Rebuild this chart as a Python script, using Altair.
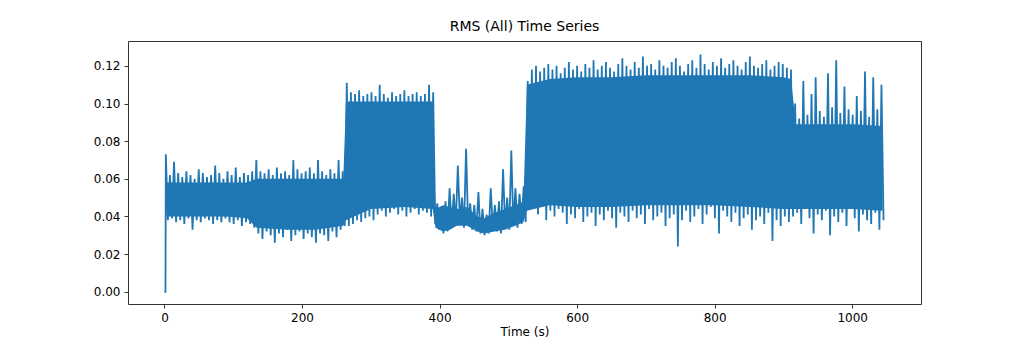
import altair as alt
import pandas as pd

# ---- data (values in thousandths of RMS) ----
lead_t = [0.0, 1.5]
lead_v = [0.0, 0.0]

pair_start = 2.0   # time of first peak (s)
pair_step = 5.98   # seconds between successive peaks

peaks_seg1 = [73, 62, 69, 63, 61, 64, 62, 60, 65, 63, 61, 62, 67, 63, 60, 64, 62, 66, 61, 63, 62, 64]
troughs_seg1 = [38, 39, 37, 38, 36, 39, 33, 38, 37, 39, 38, 36, 38, 37, 39, 37, 36, 38, 35, 37, 36, 34]

peaks_seg2 = [70, 64, 63, 65, 62, 66, 63, 64, 62, 70, 65, 63, 64, 66, 63, 70, 64, 62, 65, 63, 70, 64]
troughs_seg2 = [31, 28, 32, 30, 26, 31, 29, 33, 27, 30, 32, 28, 31, 29, 26, 31, 30, 27, 32, 29, 33, 35]

peaks_seg3 = [111, 106, 105, 107, 104, 105, 106, 104, 110, 105, 103, 106, 104, 105, 107, 104, 105, 106, 104, 105, 110, 106]
troughs_seg3 = [35, 36, 38, 37, 39, 40, 38, 41, 43, 40, 42, 44, 41, 43, 40, 42, 44, 41, 43, 42, 40, 36]

peaks_seg4 = [47, 45, 48, 55, 52, 67, 50, 76, 47, 46, 53, 44, 41, 55, 46, 48, 65, 50, 75, 55, 52, 56]
troughs_seg4 = [33, 31, 32, 34, 36, 38, 34, 35, 33, 32, 31, 30, 31, 33, 32, 31, 34, 33, 35, 34, 36, 37]

peaks_seg5 = [112, 118, 120, 117, 119, 121, 118, 120,
              116, 119, 122, 118, 120, 117, 121, 119,
              123, 118, 120, 122, 119, 117, 121, 124,
              120, 118, 122, 119, 125, 120, 121, 118,
              123, 120, 119, 122, 124, 120, 117, 121,
              123, 119, 126, 121, 118, 122, 120, 124,
              119, 121, 123, 120, 118, 122, 125, 120,
              119, 121, 123, 118, 120, 122, 121, 119]
troughs_seg5 = [47, 44, 41, 45, 38, 43, 40, 44,
                42, 36, 41, 39, 44, 37, 40, 42,
                35, 41, 38, 43, 39, 34, 42, 40,
                37, 43, 39, 41, 36, 44, 38, 40,
                42, 35, 39, 41, 24, 38, 43, 37,
                40, 44, 36, 41, 45, 39, 31, 43,
                40, 37, 42, 35, 39, 41, 33, 38,
                40, 36, 42, 27, 38, 35, 40, 37]

peaks_seg6 = [118, 100, 92, 112, 94, 105, 114, 96, 93, 116, 98, 123, 95, 109, 97, 94, 104, 96, 117, 93, 114, 97, 110]
troughs_seg6 = [40, 42, 36, 44, 39, 31, 41, 38, 43, 30, 40, 37, 42, 35, 44, 39, 32, 41, 38, 36, 42, 33, 38]

# dense body of the signal: solid core of the filled band
band_t = [3, 30, 60, 90, 120, 134, 180, 220, 260, 264, 300, 350, 390,
          394, 405, 415, 425, 440, 455, 465, 480, 495, 510, 522,
          527, 560, 600, 650, 700, 750, 800, 850, 900, 911,
          918, 950, 1000, 1044]
band_top = [58, 58, 58, 58, 58, 60, 60, 60, 60, 101, 101, 101, 101,
            44, 46, 45, 44, 45, 40, 39, 42, 44, 46, 48,
            110, 113, 114, 114, 115, 115, 115, 115, 114, 113,
            89, 89, 89, 88]
band_bottom = [40, 40, 40, 40, 39, 34, 33, 33, 35, 38, 44, 45, 44,
               34, 32, 33, 35, 35, 32, 31, 32, 33, 35, 37,
               43, 46, 45, 45, 46, 46, 46, 45, 44, 44,
               44, 44, 44, 43]

x_ticks = [0, 200, 400, 600, 800, 1000]
y_ticks = [0.0, 0.02, 0.04, 0.06, 0.08, 0.10, 0.12]

# ---- build tables ----
peaks = peaks_seg1 + peaks_seg2 + peaks_seg3 + peaks_seg4 + peaks_seg5 + peaks_seg6
troughs = troughs_seg1 + troughs_seg2 + troughs_seg3 + troughs_seg4 + troughs_seg5 + troughs_seg6
n = min(len(peaks), len(troughs))

ts = list(lead_t)
vs = list(lead_v)
for i in range(n):
    t_hi = pair_start + pair_step * i
    ts.append(t_hi)
    vs.append(peaks[i] / 1000.0)
    ts.append(t_hi + pair_step / 2)
    vs.append(troughs[i] / 1000.0)

df_line = pd.DataFrame({"t": ts, "rms": vs})
df_band = pd.DataFrame({
    "t": band_t,
    "lo": [b / 1000.0 for b in band_bottom],
    "hi": [b / 1000.0 for b in band_top],
})

x_scale = alt.Scale(domain=[-53, 1100], nice=False, zero=False)
y_scale = alt.Scale(domain=[-0.0065, 0.1332], nice=False, zero=False)

x_enc = alt.X(
    "t:Q",
    scale=x_scale,
    axis=alt.Axis(title="Time (s)", values=x_ticks, format="d",
                  labelPadding=4, titlePadding=3),
)
y_axis = alt.Axis(title=None, values=y_ticks, format=".2f", labelPadding=4)

band = (
    alt.Chart(df_band)
    .mark_area(color="#1f77b4", opacity=1, clip=True)
    .encode(
        x=x_enc,
        y=alt.Y("lo:Q", scale=y_scale, axis=y_axis),
        y2="hi:Q",
    )
)

line = (
    alt.Chart(df_line)
    .mark_line(color="#1f77b4", strokeWidth=1.8, clip=True)
    .encode(
        x=x_enc,
        y=alt.Y("rms:Q", scale=y_scale, axis=y_axis),
    )
)

chart = (
    alt.layer(band, line)
    .properties(
        width=793,
        height=263,
        title="RMS (All) Time Series",
        autosize=alt.AutoSizeParams(type="none"),
        padding={"left": 128, "top": 41, "right": 103, "bottom": 37},
    )
    .configure_view(stroke="#333333", strokeWidth=1)
    .configure_axis(
        grid=False,
        domain=False,
        ticks=True,
        tickColor="#333333",
        tickSize=4,
        labelFont="DejaVu Sans",
        labelFontSize=12,
        labelColor="#000000",
        titleFont="DejaVu Sans",
        titleFontSize=12,
        titleFontWeight="normal",
        titleColor="#000000",
    )
    .configure_title(
        font="DejaVu Sans",
        fontSize=14,
        fontWeight="normal",
        color="#000000",
        anchor="middle",
        offset=7,
    )
)

chart.save("out.html", embed_options={"renderer": "svg", "actions": False})
